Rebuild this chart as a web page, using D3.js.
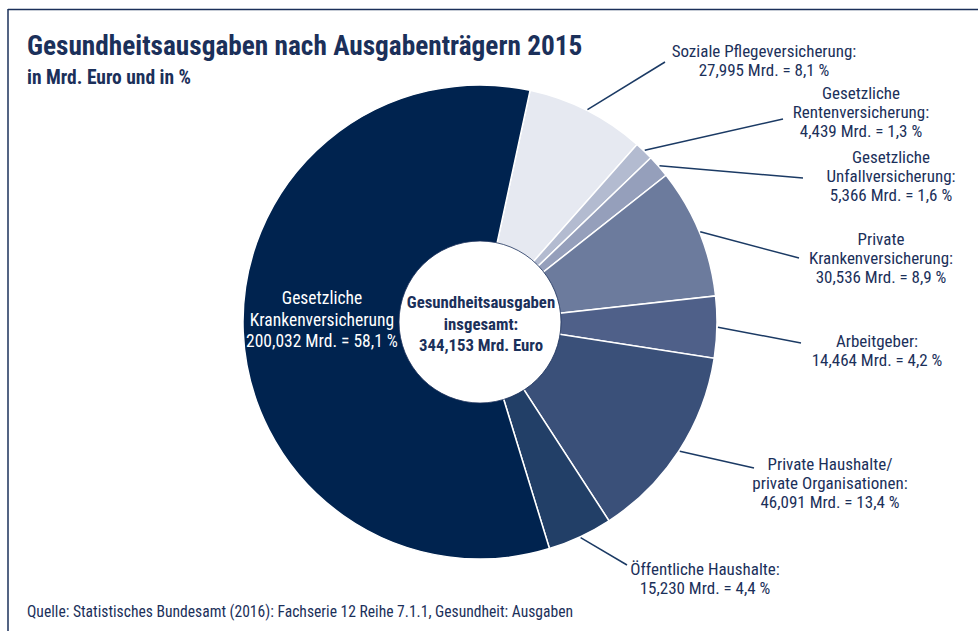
<!DOCTYPE html>
<html><head><meta charset="utf-8">
<script src="https://cdn.jsdelivr.net/npm/d3@7"></script>
<style>
html,body{margin:0;padding:0;background:#fff;}
text{font-family:"Liberation Sans Narrow","Roboto Condensed","Liberation Sans",sans-serif;}
</style></head>
<body><svg id="c" width="978" height="631"></svg>
<script>
// ---- data ----
const categories = ["Soziale Pflegeversicherung","Gesetzliche Rentenversicherung","Gesetzliche Unfallversicherung","Private Krankenversicherung","Arbeitgeber","Private Haushalte/private Organisationen","Öffentliche Haushalte","Gesetzliche Krankenversicherung"];
const valuesMrd = [27.995, 4.439, 5.366, 30.536, 14.464, 46.091, 15.230, 200.032];
const valueLabels = ["27,995","4,439","5,366","30,536","14,464","46,091","15,230","200,032"];
const percentLabels = ["8,1","1,3","1,6","8,9","4,2","13,4","4,4","58,1"];
const labelLines = [
  ["Soziale Pflegeversicherung:"],
  ["Gesetzliche","Rentenversicherung:"],
  ["Gesetzliche","Unfallversicherung:"],
  ["Private","Krankenversicherung:"],
  ["Arbeitgeber:"],
  ["Private Haushalte/","private Organisationen:"],
  ["Öffentliche Haushalte:"],
  ["Gesetzliche","Krankenversicherung"]
];
const totalLabel = ["Gesundheitsausgaben","insgesamt:","344,153 Mrd. Euro"];
const titleText = "Gesundheitsausgaben nach Ausgabenträgern 2015";
const subtitleText = "in Mrd. Euro und in %";
const sourceText = "Quelle: Statistisches Bundesamt (2016): Fachserie 12 Reihe 7.1.1, Gesundheit: Ausgaben";

// ---- style / layout ----
const colors = ["#e6e9f1","#b3bbd0","#959fbb","#6c7b9d","#4f6089","#3a5079","#223f67","#00234f"];
const textColor = "#1b305a";
// label anchor (x center, first baseline y) and leader end point
const labelLayout = [
  {x:764, y:57,  lx:665, ly:62},
  {x:861, y:99,  lx:783, ly:119},
  {x:891, y:163, lx:803, ly:178},
  {x:881, y:245, lx:799, ly:258},
  {x:877, y:347, lx:801, ly:343},
  {x:830, y:470, lx:754, ly:468},
  {x:705, y:575, lx:627, ly:565},
  {x:322, y:304}
];

const svg = d3.select("#c");
const cx = 480, cy = 322, R = 237, r0 = 81;

// frame
svg.append("line").attr("x1",8).attr("x2",978).attr("y1",9.5).attr("y2",9.5).attr("stroke","#1b305a").attr("stroke-width",1.5);
svg.append("line").attr("x1",8).attr("x2",8).attr("y1",9).attr("y2",631).attr("stroke","#1b305a").attr("stroke-width",1.5);

svg.append("text").attr("x",27).attr("y",55).attr("fill",textColor).attr("font-size",27.3).attr("font-weight","bold").text(titleText);
svg.append("text").attr("x",27).attr("y",84).attr("fill",textColor).attr("font-size",19.5).attr("font-weight","bold").text(subtitleText);
svg.append("text").attr("x",27).attr("y",617).attr("fill",textColor).attr("font-size",15.6).text(sourceText);

const startA = 12.2 * Math.PI/180;
const pie = d3.pie().sort(null).value(d=>d).startAngle(startA).endAngle(startA + 2*Math.PI);
const arcs = pie(valuesMrd);
const arc = d3.arc().innerRadius(0).outerRadius(R);

const g = svg.append("g").attr("transform",`translate(${cx},${cy})`);
g.selectAll("path").data(arcs).join("path")
  .attr("d",arc).attr("fill",(d,i)=>colors[i]).attr("stroke","#fff").attr("stroke-width",1.5);

g.append("circle").attr("r",r0).attr("fill","#fff");
g.append("circle").attr("r",r0).attr("fill","none").attr("stroke","#1b305a").attr("stroke-width",0.8);

// leaders
arcs.forEach((a,i)=>{
  const L = labelLayout[i];
  if (L.lx === undefined) return;
  const m = (a.startAngle + a.endAngle)/2;
  const sx = cx + 238*Math.sin(m), sy = cy - 238*Math.cos(m);
  svg.append("line").attr("x1",sx).attr("y1",sy).attr("x2",L.lx).attr("y2",L.ly)
    .attr("stroke","#1b3a64").attr("stroke-width",1.5);
});

// labels
arcs.forEach((a,i)=>{
  const L = labelLayout[i];
  const lines = labelLines[i].concat([valueLabels[i] + " Mrd. = " + percentLabels[i] + " %"]);
  const isInside = i === 7;
  const t = svg.append("text").attr("text-anchor","middle")
    .attr("fill", isInside ? "#fff" : textColor)
    .attr("font-size", isInside ? 17.5 : 17);
  lines.forEach((s,k)=>{
    t.append("tspan").attr("x",L.x).attr("y",L.y + k*(isInside?21.5:19)).text(s);
  });
});

const ct = svg.append("text").attr("text-anchor","middle").attr("fill",textColor).attr("font-size",16.8).attr("font-weight","bold");
totalLabel.forEach((s,k)=>{
  ct.append("tspan").attr("x",cx+1).attr("y",308 + k*21.5).text(s);
});
</script></body></html>
